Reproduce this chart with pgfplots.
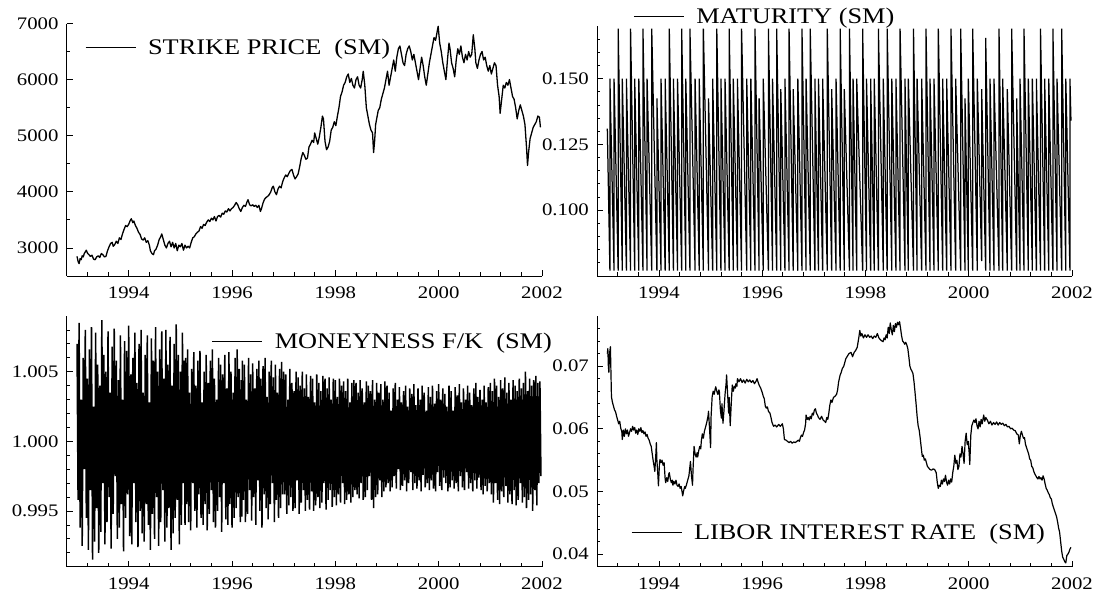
\documentclass[border=0pt]{standalone}
\usepackage{fontspec}
\setmainfont{Liberation Serif}[FakeStretch=1.18]
\usepackage{pgfplots}
\pgfplotsset{compat=1.18}

\newcommand\tickfont{\fontsize{17.6}{20}\selectfont}
\newcommand\legfont{\fontsize{22.3}{26}\selectfont}

\pgfplotsset{
  panel/.style={
    scale only axis,
    axis lines=left,
    axis line style={-, line width=0.8pt, black},
    tick align=inside,
    major tick length=6pt,
    minor tick length=3.5pt,
    tick style={line width=0.8pt, black},
    scaled ticks=false,
    xmin=1992.8, xmax=2002,
    xtick={1994,1996,1998,2000,2002},
    xticklabels={1994,1996,1998,2000,2002},
    minor xtick={1993.2,1993.6,1994.4,1994.8,1995.2,1995.6,1996.4,1996.8,1997.2,1997.6,1998.4,1998.8,1999.2,1999.6,2000.4,2000.8,2001.2,2001.6},
    tick label style={font=\tickfont, inner sep=0pt},
    xticklabel style={yshift=-11pt},
    yticklabel style={xshift=-8pt},
    legend style={draw=none, fill=none, inner sep=0pt, outer sep=0pt,
      font=\legfont, anchor=west, legend cell align=left,
      /tikz/every odd column/.append style={column sep=10pt}},
    legend image code/.code={\draw[#1, line width=0.8pt] (0pt,0pt) -- (50pt,0pt);},
  }
}

\begin{document}
\begin{tikzpicture}
\path[use as bounding box] (0pt,0pt) rectangle (1096pt,595pt);

% ---------------- strike price ----------------
\begin{axis}[panel, at={(66.7pt,319pt)}, anchor=south west,
  width=475.3pt, height=252.5pt,
  ymin=2500, ymax=7000,
  ytick={3000,4000,5000,6000,7000}, yticklabels={3000,4000,5000,6000,7000},
  minor ytick={3500,4500,5500,6500},
  legend style={at={(0.0391,0.9046)}}]
\addplot[black, line width=1.3pt, line join=round] coordinates {
(1993.00,2850) (1993.02,2760) (1993.04,2720) (1993.06,2810) (1993.08,2790) (1993.10,2860)
(1993.12,2840) (1993.14,2900) (1993.16,2930) (1993.18,2960) (1993.20,2910) (1993.23,2880)
(1993.26,2850) (1993.29,2870) (1993.32,2800) (1993.35,2790) (1993.38,2840) (1993.41,2860)
(1993.44,2830) (1993.47,2900) (1993.50,2880) (1993.53,2840) (1993.56,2850) (1993.59,2950)
(1993.62,3020) (1993.65,3080) (1993.68,3100) (1993.70,3030) (1993.73,3060) (1993.76,3120)
(1993.79,3080) (1993.82,3180) (1993.85,3150) (1993.88,3250) (1993.91,3330) (1993.94,3400)
(1993.97,3380) (1994.00,3420) (1994.03,3490) (1994.05,3520) (1994.08,3450) (1994.10,3480)
(1994.13,3400) (1994.16,3350) (1994.19,3280) (1994.22,3240) (1994.25,3160) (1994.28,3140)
(1994.31,3180) (1994.34,3100) (1994.37,3130) (1994.40,3050) (1994.42,2950) (1994.45,2900)
(1994.48,2880) (1994.50,2950) (1994.53,2980) (1994.56,3050) (1994.59,3150) (1994.62,3200)
(1994.64,3250) (1994.67,3150) (1994.70,3050) (1994.73,3000) (1994.76,3080) (1994.79,3120)
(1994.82,3020) (1994.85,3100) (1994.88,3000) (1994.91,3080) (1994.94,2950) (1994.97,3050)
(1995.00,3020) (1995.03,3080) (1995.06,2960) (1995.09,3050) (1995.12,3000) (1995.15,3030)
(1995.18,3000) (1995.21,3100) (1995.24,3180) (1995.27,3200) (1995.30,3250) (1995.33,3280)
(1995.36,3300) (1995.39,3380) (1995.42,3350) (1995.45,3420) (1995.48,3400) (1995.51,3460)
(1995.54,3500) (1995.57,3470) (1995.60,3530) (1995.63,3500) (1995.66,3560) (1995.69,3480)
(1995.72,3560) (1995.75,3580) (1995.78,3550) (1995.81,3620) (1995.84,3600) (1995.87,3660)
(1995.90,3640) (1995.93,3700) (1995.96,3660) (1995.99,3700) (1996.02,3720) (1996.05,3760)
(1996.08,3810) (1996.11,3770) (1996.14,3700) (1996.17,3650) (1996.20,3720) (1996.23,3760)
(1996.26,3740) (1996.29,3820) (1996.31,3860) (1996.34,3770) (1996.37,3750) (1996.40,3770)
(1996.43,3740) (1996.46,3760) (1996.49,3720) (1996.52,3760) (1996.55,3650) (1996.57,3700)
(1996.60,3800) (1996.63,3870) (1996.66,3900) (1996.69,3920) (1996.72,3950) (1996.75,4000)
(1996.78,4080) (1996.80,4100) (1996.83,4000) (1996.86,3950) (1996.89,4050) (1996.92,4100)
(1996.95,4070) (1996.98,4180) (1997.01,4250) (1997.04,4300) (1997.07,4270) (1997.10,4330)
(1997.13,4380) (1997.16,4400) (1997.19,4300) (1997.22,4230) (1997.25,4270) (1997.28,4320)
(1997.31,4450) (1997.34,4600) (1997.37,4700) (1997.40,4650) (1997.43,4580) (1997.46,4600)
(1997.49,4800) (1997.52,4850) (1997.55,4920) (1997.58,4880) (1997.60,5050) (1997.63,4950)
(1997.66,4850) (1997.69,4980) (1997.72,5150) (1997.75,5350) (1997.77,5300) (1997.80,4900)
(1997.83,4750) (1997.86,4800) (1997.89,4900) (1997.92,5100) (1997.95,5150) (1997.98,5250)
(1998.01,5180) (1998.04,5350) (1998.07,5500) (1998.10,5700) (1998.13,5780) (1998.16,5900)
(1998.19,5950) (1998.22,6050) (1998.25,6100) (1998.28,5950) (1998.31,6020) (1998.34,5900)
(1998.37,5850) (1998.40,6000) (1998.43,6050) (1998.46,5900) (1998.49,5850) (1998.52,6000)
(1998.54,6150) (1998.57,5900) (1998.60,5500) (1998.63,5350) (1998.66,5200) (1998.69,5100)
(1998.72,5050) (1998.74,4700) (1998.76,4900) (1998.78,5200) (1998.80,5300) (1998.83,5450)
(1998.86,5500) (1998.89,5650) (1998.92,5750) (1998.95,5850) (1998.98,6000) (1999.01,6150)
(1999.04,5900) (1999.07,6050) (1999.10,6200) (1999.13,6350) (1999.16,6150) (1999.19,6400)
(1999.22,6550) (1999.25,6600) (1999.28,6450) (1999.31,6300) (1999.34,6250) (1999.37,6450)
(1999.40,6550) (1999.43,6600) (1999.46,6500) (1999.49,6350) (1999.52,6450) (1999.55,6300)
(1999.58,6150) (1999.61,6000) (1999.64,6200) (1999.67,6400) (1999.70,6250) (1999.73,6050)
(1999.76,5900) (1999.79,6100) (1999.82,6300) (1999.85,6450) (1999.88,6600) (1999.91,6750)
(1999.94,6700) (1999.97,6850) (1999.99,6950) (2000.02,6650) (2000.05,6500) (2000.08,6300)
(2000.11,6150) (2000.14,6000) (2000.17,6350) (2000.20,6650) (2000.22,6550) (2000.25,6300)
(2000.28,6200) (2000.31,6050) (2000.34,6350) (2000.37,6550) (2000.40,6450) (2000.43,6600)
(2000.46,6400) (2000.49,6300) (2000.52,6450) (2000.55,6350) (2000.58,6500) (2000.61,6400)
(2000.64,6450) (2000.67,6800) (2000.70,6550) (2000.72,6300) (2000.75,6200) (2000.78,6350)
(2000.81,6450) (2000.84,6500) (2000.87,6350) (2000.90,6400) (2000.93,6250) (2000.96,6150)
(2000.99,6250) (2001.02,6100) (2001.05,6200) (2001.08,6300) (2001.11,6250) (2001.14,5900)
(2001.17,5700) (2001.19,5400) (2001.22,5650) (2001.25,5900) (2001.28,5850) (2001.31,5950)
(2001.34,5900) (2001.37,6000) (2001.40,5850) (2001.43,5700) (2001.46,5650) (2001.49,5500)
(2001.52,5300) (2001.55,5450) (2001.58,5550) (2001.61,5450) (2001.64,5350) (2001.67,5200)
(2001.70,4800) (2001.72,4470) (2001.74,4700) (2001.77,4950) (2001.80,5050) (2001.83,5150)
(2001.86,5200) (2001.89,5250) (2001.92,5350) (2001.95,5330) (2001.97,5150)
};
\addlegendentry{STRIKE PRICE\ \ (SM)}
\end{axis}

% ---------------- maturity ----------------
\begin{axis}[panel, at={(597pt,319pt)}, anchor=south west,
  width=475pt, height=250pt,
  ymin=0.075, ymax=0.170,
  ytick={0.100,0.125,0.150}, yticklabels={0.100,0.125,0.150},
  minor ytick={0.080,0.085,0.090,0.095,0.105,0.110,0.115,0.120,0.130,0.135,0.140,0.145,0.155,0.160,0.165},
  legend style={at={(0.0768,1.0388)}}]
\addplot[black, line width=1.25pt] coordinates {
(1993.00,0.131)
(1993.05,0.077) (1993.05,0.150) (1993.13,0.077) (1993.13,0.150) (1993.21,0.077) (1993.21,0.169)
(1993.29,0.077) (1993.29,0.150) (1993.37,0.077) (1993.37,0.150) (1993.45,0.077) (1993.45,0.169)
(1993.53,0.077) (1993.53,0.150) (1993.61,0.077) (1993.61,0.150) (1993.69,0.077) (1993.69,0.169)
(1993.77,0.077) (1993.77,0.150) (1993.86,0.077) (1993.86,0.169) (1993.96,0.077) (1993.96,0.1425)
(1994.04,0.077) (1994.04,0.150) (1994.12,0.077) (1994.12,0.150) (1994.20,0.077) (1994.20,0.169)
(1994.28,0.077) (1994.28,0.150) (1994.36,0.077) (1994.36,0.150) (1994.44,0.077) (1994.44,0.169)
(1994.52,0.077) (1994.52,0.150) (1994.60,0.077) (1994.60,0.169) (1994.70,0.077) (1994.70,0.150)
(1994.78,0.077) (1994.78,0.150) (1994.86,0.077) (1994.86,0.169) (1994.96,0.077) (1994.96,0.1425)
(1995.04,0.077) (1995.04,0.150) (1995.12,0.077) (1995.12,0.169) (1995.20,0.077) (1995.20,0.150)
(1995.28,0.077) (1995.28,0.150) (1995.36,0.077) (1995.36,0.169) (1995.44,0.077) (1995.44,0.150)
(1995.52,0.077) (1995.52,0.150) (1995.60,0.077) (1995.60,0.169) (1995.70,0.077) (1995.70,0.150)
(1995.78,0.077) (1995.78,0.150) (1995.86,0.077) (1995.86,0.169) (1995.94,0.077) (1995.94,0.1425)
(1996.02,0.077) (1996.02,0.150) (1996.12,0.077) (1996.12,0.169) (1996.20,0.077) (1996.20,0.150)
(1996.28,0.077) (1996.28,0.169) (1996.36,0.077) (1996.36,0.146) (1996.44,0.077) (1996.44,0.150)
(1996.52,0.077) (1996.52,0.169) (1996.60,0.077) (1996.60,0.146) (1996.69,0.077) (1996.69,0.150)
(1996.77,0.077) (1996.77,0.169) (1996.85,0.077) (1996.85,0.150) (1996.93,0.077) (1996.93,0.169)
(1997.02,0.077) (1997.02,0.150) (1997.09,0.077) (1997.09,0.150) (1997.17,0.077) (1997.17,0.150)
(1997.26,0.077) (1997.26,0.169) (1997.345,0.077) (1997.345,0.146) (1997.43,0.077) (1997.43,0.150)
(1997.51,0.077) (1997.51,0.169) (1997.59,0.077) (1997.59,0.146) (1997.69,0.077) (1997.69,0.169)
(1997.76,0.077) (1997.76,0.150) (1997.83,0.077) (1997.83,0.150) (1997.945,0.077) (1997.945,0.169)
(1998.02,0.077) (1998.02,0.150) (1998.10,0.077) (1998.10,0.150) (1998.17,0.077) (1998.17,0.150)
(1998.25,0.077) (1998.25,0.169) (1998.345,0.077) (1998.345,0.150) (1998.42,0.077) (1998.42,0.169)
(1998.51,0.077) (1998.51,0.150) (1998.59,0.077) (1998.59,0.150) (1998.67,0.077) (1998.67,0.169)
(1998.765,0.077) (1998.765,0.150) (1998.83,0.077) (1998.83,0.150) (1998.93,0.077) (1998.93,0.169)
(1999.00,0.077) (1999.00,0.150) (1999.088,0.077) (1999.088,0.150) (1999.172,0.077) (1999.172,0.169)
(1999.25,0.077) (1999.25,0.150) (1999.327,0.077) (1999.327,0.150) (1999.411,0.077) (1999.411,0.169)
(1999.495,0.077) (1999.495,0.150) (1999.572,0.077) (1999.572,0.150) (1999.656,0.077) (1999.656,0.169)
(1999.747,0.077) (1999.747,0.150) (1999.844,0.077) (1999.844,0.169) (1999.928,0.077) (1999.928,0.1425)
(1999.992,0.077) (1999.992,0.150) (2000.076,0.077) (2000.076,0.169) (2000.166,0.077) (2000.166,0.150)
(2000.25,0.0807) (2000.25,0.146) (2000.328,0.077) (2000.328,0.1655) (2000.412,0.077) (2000.412,0.150)
(2000.489,0.077) (2000.489,0.150) (2000.586,0.077) (2000.586,0.169) (2000.657,0.077) (2000.657,0.150)
(2000.747,0.077) (2000.747,0.146) (2000.831,0.077) (2000.831,0.169) (2000.928,0.077) (2000.928,0.1425)
(2000.993,0.077) (2000.993,0.150) (2001.07,0.077) (2001.07,0.169) (2001.154,0.077) (2001.154,0.150)
(2001.232,0.077) (2001.232,0.150) (2001.31,0.077) (2001.31,0.150) (2001.39,0.077) (2001.39,0.169)
(2001.47,0.077) (2001.47,0.150) (2001.55,0.077) (2001.55,0.150) (2001.63,0.077) (2001.63,0.169)
(2001.71,0.077) (2001.71,0.150) (2001.80,0.077) (2001.80,0.169) (2001.88,0.077) (2001.88,0.150)
(2001.96,0.077) (2001.96,0.150) (2001.98,0.134)
};
\addlegendentry{MATURITY (SM)}
\end{axis}

% ---------------- moneyness ----------------
\begin{axis}[panel, at={(66.7pt,28.3pt)}, anchor=south west,
  width=475.3pt, height=250.7pt,
  ymin=0.991, ymax=1.009,
  ytick={0.995,1.000,1.005}, yticklabels={0.995,1.000,1.005},
  minor ytick={0.992,0.993,0.994,0.996,0.997,0.998,0.999,1.001,1.002,1.003,1.004,1.006,1.007,1.008},
  legend style={at={(0.3057,0.898)}}]
\addplot[black, line width=1.5pt] coordinates {
(1993.00,1.0070) (1993.02,0.9958) (1993.04,1.0085) (1993.06,0.9938) (1993.08,1.0030) (1993.10,0.9925)
(1993.12,1.0060) (1993.14,0.9980) (1993.16,1.0080) (1993.18,0.9945) (1993.20,1.0045) (1993.22,0.9922)
(1993.24,1.0066) (1993.26,0.9965) (1993.28,1.0082) (1993.30,0.9915) (1993.32,1.0025) (1993.34,0.9928)
(1993.36,1.0078) (1993.38,0.9952) (1993.40,1.0055) (1993.42,0.9920) (1993.44,1.0040) (1993.46,0.9935)
(1993.48,1.0087) (1993.50,0.9970) (1993.52,1.0062) (1993.54,0.9926) (1993.56,1.0050) (1993.58,0.9942)
(1993.60,1.0079) (1993.62,0.9960) (1993.64,1.0035) (1993.66,0.9923) (1993.68,1.0068) (1993.70,0.9948)
(1993.72,1.0081) (1993.74,0.9975) (1993.76,1.0058) (1993.78,0.9930) (1993.80,1.0044) (1993.82,0.9938)
(1993.84,1.0076) (1993.86,0.9955) (1993.88,1.0030) (1993.90,0.9921) (1993.92,1.0072) (1993.94,0.9945)
(1993.96,1.0065) (1993.98,0.9962) (1994.00,1.0083) (1994.02,0.9932) (1994.04,1.0048) (1994.06,0.9926)
(1994.08,1.0060) (1994.10,0.9970) (1994.12,1.0078) (1994.14,0.9942) (1994.16,1.0042) (1994.18,0.9924)
(1994.20,1.0070) (1994.22,0.9950) (1994.24,1.0080) (1994.26,0.9934) (1994.28,1.0035) (1994.30,0.9928)
(1994.32,1.0062) (1994.34,0.9955) (1994.36,1.0076) (1994.38,0.9940) (1994.40,1.0028) (1994.42,0.9922)
(1994.44,1.0074) (1994.46,0.9948) (1994.48,1.0058) (1994.50,0.9930) (1994.52,1.0082) (1994.54,0.9960)
(1994.56,1.0050) (1994.58,0.9925) (1994.60,1.0066) (1994.62,0.9942) (1994.64,1.0079) (1994.66,0.9965)
(1994.68,1.0045) (1994.70,0.9928) (1994.72,1.0080) (1994.74,0.9938) (1994.76,1.0055) (1994.78,0.9952)
(1994.80,1.0075) (1994.82,0.9922) (1994.84,1.0040) (1994.86,0.9934) (1994.88,1.0070) (1994.90,0.9945)
(1994.92,1.0084) (1994.94,0.9958) (1994.96,1.0062) (1994.98,0.9926) (1995.00,1.0050) (1995.02,0.9940)
(1995.04,1.0078) (1995.06,0.9970) (1995.08,1.0058) (1995.09,0.9940)
(1995.10,1.0060) (1995.12,0.9955) (1995.14,1.0066) (1995.16,0.9942) (1995.18,1.0035) (1995.20,0.9936)
(1995.22,1.0052) (1995.24,0.9970) (1995.26,1.0064) (1995.28,0.9950) (1995.30,1.0040) (1995.32,0.9938)
(1995.34,1.0058) (1995.36,0.9962) (1995.38,1.0065) (1995.40,0.9945) (1995.42,1.0028) (1995.44,0.9940)
(1995.46,1.0050) (1995.48,0.9955) (1995.50,1.0062) (1995.52,0.9936) (1995.54,1.0042) (1995.56,0.9948)
(1995.58,1.0058) (1995.60,0.9965) (1995.62,1.0066) (1995.64,0.9942) (1995.66,1.0045) (1995.68,0.9938)
(1995.70,1.0030) (1995.72,0.9950) (1995.74,1.0060) (1995.76,0.9960) (1995.78,1.0055) (1995.80,0.9935)
(1995.82,1.0048) (1995.84,0.9970) (1995.86,1.0062) (1995.88,0.9944) (1995.90,1.0038) (1995.92,0.9940)
(1995.94,1.0064) (1995.96,0.9955) (1995.98,1.0050) (1996.00,0.9938) (1996.02,1.0035) (1996.04,0.9945)
(1996.06,1.0060) (1996.08,0.9952) (1996.10,1.0066) (1996.12,0.9960) (1996.14,1.0052) (1996.16,0.9942)
(1996.18,1.0044) (1996.19,0.9946)
(1996.20,1.0058) (1996.22,0.9958) (1996.24,1.0055) (1996.26,0.9942) (1996.28,1.0030) (1996.30,0.9948)
(1996.32,1.0060) (1996.34,0.9965) (1996.36,1.0048) (1996.38,0.9943) (1996.40,1.0056) (1996.42,0.9960)
(1996.44,1.0038) (1996.46,0.9940) (1996.48,1.0052) (1996.50,0.9972) (1996.52,1.0058) (1996.54,0.9950)
(1996.56,1.0045) (1996.58,0.9938) (1996.60,1.0054) (1996.62,0.9962) (1996.64,1.0060) (1996.66,0.9952)
(1996.68,1.0032) (1996.70,0.9944) (1996.72,1.0050) (1996.74,0.9955) (1996.76,1.0058) (1996.78,0.9970)
(1996.80,1.0046) (1996.82,0.9942) (1996.84,1.0055) (1996.86,0.9958) (1996.88,1.0035) (1996.90,0.9945)
(1996.92,1.0052) (1996.94,0.9952) (1996.96,1.0057) (1996.98,0.9962)
(1997.00,1.0050) (1997.02,0.9962) (1997.04,1.0048) (1997.06,0.9948) (1997.08,1.0030) (1997.10,0.9954)
(1997.12,1.0052) (1997.14,0.9960) (1997.16,1.0042) (1997.18,0.9950) (1997.20,1.0036) (1997.22,0.9952)
(1997.24,1.0050) (1997.26,0.9972) (1997.28,1.0046) (1997.30,0.9948) (1997.32,1.0040) (1997.34,0.9956)
(1997.36,1.0050) (1997.38,0.9965) (1997.40,1.0038) (1997.42,0.9950) (1997.44,1.0048) (1997.46,0.9958)
(1997.48,1.0032) (1997.50,0.9951) (1997.52,1.0047) (1997.54,0.9964) (1997.56,1.0045) (1997.58,0.9950)
(1997.60,1.0028) (1997.62,0.9954) (1997.64,1.0048) (1997.66,0.9960) (1997.68,1.0042) (1997.70,0.9952)
(1997.72,1.0036) (1997.74,0.9956) (1997.76,1.0047) (1997.78,0.9970) (1997.80,1.0045) (1997.82,0.9951)
(1997.84,1.0038) (1997.86,0.9958) (1997.88,1.0046) (1997.90,0.9965) (1997.92,1.0030) (1997.94,0.9953)
(1997.96,1.0045) (1997.98,0.9960) (1998.00,1.0044) (1998.02,0.9954) (1998.04,1.0032) (1998.06,0.9962)
(1998.08,1.0045) (1998.10,0.9956) (1998.12,1.0040) (1998.14,0.9970) (1998.16,1.0043) (1998.18,0.9955)
(1998.20,1.0036) (1998.22,0.9958) (1998.24,1.0045) (1998.26,0.9962) (1998.28,1.0028) (1998.30,0.9956)
(1998.32,1.0042) (1998.34,0.9960) (1998.36,1.0044) (1998.38,0.9965)
(1998.40,1.0042) (1998.42,0.9962) (1998.44,1.0035) (1998.46,0.9959) (1998.48,1.0044) (1998.50,0.9970)
(1998.52,1.0038) (1998.54,0.9958) (1998.56,1.0028) (1998.58,0.9960) (1998.60,1.0043) (1998.62,0.9965)
(1998.64,1.0040) (1998.66,0.9975) (1998.68,1.0036) (1998.70,0.9958) (1998.72,1.0044) (1998.74,0.9952)
(1998.76,1.0030) (1998.78,0.9960) (1998.80,1.0042) (1998.82,0.9962) (1998.84,1.0035) (1998.86,0.9972)
(1998.88,1.0041) (1998.90,0.9960) (1998.92,1.0030) (1998.94,0.9964) (1998.96,1.0043) (1998.98,0.9967)
(1999.00,1.0040) (1999.02,0.9970) (1999.04,1.0035) (1999.06,0.9964) (1999.08,1.0022) (1999.10,0.9967)
(1999.12,1.0038) (1999.14,0.9975) (1999.16,1.0042) (1999.18,0.9966) (1999.20,1.0030) (1999.22,0.9980)
(1999.24,1.0039) (1999.26,0.9965) (1999.28,1.0028) (1999.30,0.9968) (1999.32,1.0036) (1999.34,0.9972)
(1999.36,1.0040) (1999.38,0.9964) (1999.40,1.0025) (1999.42,0.9970) (1999.44,1.0038) (1999.46,0.9978)
(1999.48,1.0034) (1999.50,0.9965) (1999.52,1.0041) (1999.54,0.9970) (1999.56,1.0026) (1999.58,0.9966)
(1999.60,1.0038) (1999.62,0.9972) (1999.64,1.0030) (1999.66,0.9964) (1999.68,1.0040) (1999.70,0.9976)
(1999.72,1.0035) (1999.74,0.9967) (1999.76,1.0022) (1999.78,0.9970) (1999.80,1.0039) (1999.82,0.9965)
(1999.84,1.0032) (1999.86,0.9972) (1999.88,1.0040) (1999.90,0.9966) (1999.92,1.0027) (1999.94,0.9964)
(1999.96,1.0036) (1999.98,0.9978) (2000.00,1.0041) (2000.02,0.9968) (2000.04,1.0030) (2000.06,0.9965)
(2000.08,1.0038) (2000.10,0.9974) (2000.12,1.0034) (2000.14,0.9970) (2000.16,1.0025) (2000.18,0.9964)
(2000.20,1.0040) (2000.22,0.9967) (2000.24,1.0036) (2000.26,0.9972) (2000.28,1.0022) (2000.30,0.9966)
(2000.32,1.0039) (2000.34,0.9970) (2000.36,1.0033) (2000.38,0.9964) (2000.40,1.0041) (2000.42,0.9975)
(2000.44,1.0028) (2000.46,0.9967) (2000.48,1.0038) (2000.50,0.9965) (2000.52,1.0030) (2000.54,0.9978)
(2000.56,1.0040) (2000.58,0.9966) (2000.60,1.0035) (2000.62,0.9970) (2000.64,1.0026) (2000.66,0.9964)
(2000.68,1.0038) (2000.70,0.9972) (2000.72,1.0042) (2000.74,0.9966) (2000.76,1.0032) (2000.78,0.9974)
(2000.80,1.0037) (2000.82,0.9965) (2000.84,1.0030) (2000.86,0.9962) (2000.88,1.0040) (2000.90,0.9968)
(2000.92,1.0028) (2000.94,0.9964) (2000.96,1.0039) (2000.98,0.9970)
(2001.00,1.0042) (2001.02,0.9962) (2001.04,1.0036) (2001.06,0.9956) (2001.08,1.0045) (2001.10,0.9970)
(2001.12,1.0040) (2001.14,0.9958) (2001.16,1.0032) (2001.18,0.9955) (2001.20,1.0044) (2001.22,0.9964)
(2001.24,1.0038) (2001.26,0.9960) (2001.28,1.0046) (2001.30,0.9968) (2001.32,1.0035) (2001.34,0.9956)
(2001.36,1.0042) (2001.38,0.9962) (2001.40,1.0030) (2001.42,0.9955) (2001.44,1.0044) (2001.46,0.9965)
(2001.48,1.0040) (2001.50,0.9954) (2001.52,1.0036) (2001.54,0.9958) (2001.56,1.0045) (2001.58,0.9970)
(2001.60,1.0038) (2001.62,0.9956) (2001.64,1.0042) (2001.66,0.9960) (2001.68,1.0050) (2001.70,0.9952)
(2001.72,1.0036) (2001.74,0.9958) (2001.76,1.0045) (2001.78,0.9962) (2001.80,1.0040) (2001.82,0.9950)
(2001.84,1.0044) (2001.86,0.9965) (2001.88,1.0047) (2001.90,0.9954) (2001.92,1.0042) (2001.94,0.9970)
(2001.96,1.0043) (2001.98,0.9975)
};
\addlegendentry{MONEYNESS F/K\ \ (SM)}
\end{axis}

% ---------------- libor ----------------
\begin{axis}[panel, at={(597pt,28.3pt)}, anchor=south west,
  width=475pt, height=250.7pt,
  ymin=0.038, ymax=0.078,
  ytick={0.04,0.05,0.06,0.07}, yticklabels={0.04,0.05,0.06,0.07},
  minor ytick={0.042,0.044,0.046,0.048,0.052,0.054,0.056,0.058,0.062,0.064,0.066,0.068,0.072,0.074,0.076},
  legend style={at={(0.0722,0.1356)}}]
\addplot[black, line width=1.2pt, line join=round] coordinates {
(1993.00,0.0720) (1993.01,0.0728) (1993.02,0.0700) (1993.03,0.0690) (1993.04,0.0715) (1993.05,0.0725)
(1993.06,0.0731) (1993.07,0.0690) (1993.08,0.0651) (1993.10,0.0642) (1993.12,0.0636) (1993.14,0.0630)
(1993.16,0.0627) (1993.18,0.0620) (1993.20,0.0614) (1993.22,0.0608) (1993.24,0.0612) (1993.26,0.0601)
(1993.28,0.0596) (1993.29,0.0583) (1993.31,0.0598) (1993.33,0.0588) (1993.35,0.0600) (1993.37,0.0592)
(1993.39,0.0598) (1993.41,0.0588) (1993.43,0.0594) (1993.45,0.0600) (1993.47,0.0596) (1993.49,0.0604)
(1993.51,0.0598) (1993.53,0.0602) (1993.55,0.0593) (1993.57,0.0598) (1993.59,0.0591) (1993.61,0.0600)
(1993.63,0.0596) (1993.65,0.0602) (1993.67,0.0594) (1993.69,0.0597) (1993.71,0.0592) (1993.73,0.0595)
(1993.75,0.0588) (1993.77,0.0591) (1993.79,0.0585) (1993.81,0.0582) (1993.83,0.0576) (1993.85,0.0572)
(1993.87,0.0560) (1993.89,0.0548) (1993.91,0.0538) (1993.92,0.0532) (1993.94,0.0560) (1993.95,0.0578)
(1993.96,0.0550) (1993.98,0.0525) (1993.99,0.0509) (1994.01,0.0545) (1994.02,0.0551) (1994.04,0.0546)
(1994.06,0.0550) (1994.08,0.0542) (1994.10,0.0546) (1994.12,0.0520) (1994.13,0.0514) (1994.15,0.0522)
(1994.17,0.0516) (1994.19,0.0528) (1994.20,0.0530) (1994.22,0.0520) (1994.24,0.0514) (1994.26,0.0518)
(1994.27,0.0510) (1994.29,0.0516) (1994.31,0.0512) (1994.33,0.0518) (1994.35,0.0510) (1994.37,0.0508)
(1994.39,0.0512) (1994.41,0.0505) (1994.43,0.0508) (1994.45,0.0498) (1994.46,0.0493) (1994.48,0.0502)
(1994.50,0.0508) (1994.51,0.0505) (1994.53,0.0510) (1994.55,0.0516) (1994.57,0.0522) (1994.58,0.0525)
(1994.60,0.0540) (1994.61,0.0548) (1994.63,0.0525) (1994.65,0.0510) (1994.66,0.0535) (1994.68,0.0572)
(1994.70,0.0560) (1994.72,0.0555) (1994.74,0.0562) (1994.75,0.0555) (1994.77,0.0565) (1994.79,0.0572)
(1994.81,0.0568) (1994.82,0.0580) (1994.84,0.0592) (1994.86,0.0585) (1994.88,0.0596) (1994.89,0.0599)
(1994.91,0.0605) (1994.93,0.0612) (1994.95,0.0620) (1994.96,0.0628) (1994.98,0.0600) (1995.00,0.0570)
(1995.01,0.0620) (1995.03,0.0651) (1995.05,0.0660) (1995.07,0.0655) (1995.09,0.0664) (1995.10,0.0667)
(1995.12,0.0660) (1995.14,0.0655) (1995.16,0.0662) (1995.17,0.0660) (1995.19,0.0630) (1995.21,0.0617)
(1995.22,0.0640) (1995.24,0.0609) (1995.26,0.0630) (1995.28,0.0655) (1995.30,0.0672) (1995.31,0.0686)
(1995.33,0.0655) (1995.35,0.0625) (1995.36,0.0650) (1995.38,0.0605) (1995.40,0.0640) (1995.42,0.0670)
(1995.44,0.0660) (1995.46,0.0668) (1995.48,0.0665) (1995.49,0.0672) (1995.51,0.0668) (1995.52,0.0680)
(1995.55,0.0675) (1995.58,0.0680) (1995.61,0.0674) (1995.64,0.0678) (1995.67,0.0673) (1995.70,0.0679)
(1995.73,0.0675) (1995.76,0.0678) (1995.79,0.0674) (1995.82,0.0677) (1995.85,0.0672) (1995.88,0.0676)
(1995.90,0.0680) (1995.93,0.0672) (1995.95,0.0668) (1995.97,0.0665) (1996.00,0.0658) (1996.02,0.0652)
(1996.04,0.0648) (1996.06,0.0636) (1996.08,0.0633) (1996.10,0.0635) (1996.12,0.0628) (1996.15,0.0625)
(1996.17,0.0618) (1996.19,0.0610) (1996.22,0.0604) (1996.25,0.0606) (1996.28,0.0603) (1996.30,0.0605)
(1996.32,0.0607) (1996.35,0.0604) (1996.37,0.0606) (1996.39,0.0608) (1996.41,0.0600) (1996.43,0.0583)
(1996.46,0.0582) (1996.49,0.0580) (1996.52,0.0578) (1996.55,0.0580) (1996.58,0.0577) (1996.61,0.0579)
(1996.64,0.0578) (1996.67,0.0580) (1996.70,0.0582) (1996.72,0.0580) (1996.74,0.0586) (1996.76,0.0590)
(1996.78,0.0588) (1996.80,0.0594) (1996.82,0.0598) (1996.84,0.0608) (1996.85,0.0622) (1996.87,0.0615)
(1996.89,0.0618) (1996.91,0.0614) (1996.93,0.0620) (1996.95,0.0616) (1996.97,0.0625) (1996.99,0.0622)
(1997.01,0.0630) (1997.03,0.0632) (1997.05,0.0625) (1997.07,0.0622) (1997.09,0.0618) (1997.12,0.0615)
(1997.15,0.0620) (1997.18,0.0614) (1997.21,0.0612) (1997.23,0.0610) (1997.25,0.0618) (1997.27,0.0615)
(1997.29,0.0625) (1997.31,0.0638) (1997.33,0.0646) (1997.35,0.0642) (1997.38,0.0650) (1997.41,0.0652)
(1997.44,0.0655) (1997.46,0.0662) (1997.48,0.0675) (1997.51,0.0686) (1997.53,0.0690) (1997.55,0.0696)
(1997.58,0.0700) (1997.60,0.0706) (1997.62,0.0712) (1997.65,0.0716) (1997.68,0.0720) (1997.72,0.0722)
(1997.75,0.0715) (1997.78,0.0722) (1997.81,0.0725) (1997.84,0.0730) (1997.87,0.0745) (1997.89,0.0757)
(1997.91,0.0748) (1997.93,0.0752) (1997.96,0.0745) (1997.99,0.0750) (1998.02,0.0746) (1998.05,0.0750)
(1998.08,0.0746) (1998.11,0.0748) (1998.14,0.0744) (1998.17,0.0748) (1998.20,0.0746) (1998.23,0.0752)
(1998.26,0.0745) (1998.29,0.0742) (1998.32,0.0740) (1998.34,0.0739) (1998.36,0.0745) (1998.38,0.0742)
(1998.40,0.0750) (1998.42,0.0745) (1998.44,0.0762) (1998.46,0.0752) (1998.48,0.0769) (1998.50,0.0758)
(1998.52,0.0750) (1998.54,0.0765) (1998.56,0.0755) (1998.58,0.0768) (1998.60,0.0762) (1998.62,0.0770)
(1998.64,0.0766) (1998.66,0.0771) (1998.68,0.0760) (1998.70,0.0748) (1998.72,0.0740) (1998.74,0.0738)
(1998.76,0.0735) (1998.78,0.0738) (1998.80,0.0734) (1998.82,0.0728) (1998.84,0.0715) (1998.86,0.0700)
(1998.88,0.0695) (1998.90,0.0692) (1998.92,0.0688) (1998.94,0.0675) (1998.96,0.0658) (1998.98,0.0640)
(1999.00,0.0620) (1999.02,0.0605) (1999.04,0.0598) (1999.06,0.0585) (1999.08,0.0570) (1999.10,0.0556)
(1999.12,0.0558) (1999.14,0.0550) (1999.16,0.0552) (1999.18,0.0546) (1999.20,0.0540) (1999.22,0.0538)
(1999.25,0.0535) (1999.28,0.0534) (1999.31,0.0536) (1999.34,0.0535) (1999.37,0.0530) (1999.39,0.0515)
(1999.41,0.0505) (1999.43,0.0510) (1999.45,0.0508) (1999.47,0.0518) (1999.49,0.0512) (1999.51,0.0520)
(1999.53,0.0516) (1999.55,0.0526) (1999.57,0.0515) (1999.59,0.0510) (1999.61,0.0518) (1999.63,0.0512)
(1999.65,0.0520) (1999.67,0.0515) (1999.69,0.0530) (1999.71,0.0540) (1999.73,0.0558) (1999.75,0.0545)
(1999.77,0.0550) (1999.79,0.0535) (1999.81,0.0540) (1999.83,0.0560) (1999.85,0.0555) (1999.87,0.0572)
(1999.89,0.0560) (1999.91,0.0545) (1999.93,0.0580) (1999.95,0.0593) (1999.97,0.0575) (1999.99,0.0580)
(2000.01,0.0560) (2000.02,0.0543) (2000.04,0.0590) (2000.06,0.0605) (2000.08,0.0610) (2000.10,0.0614)
(2000.12,0.0610) (2000.14,0.0616) (2000.16,0.0605) (2000.18,0.0600) (2000.20,0.0612) (2000.22,0.0603)
(2000.24,0.0615) (2000.26,0.0608) (2000.29,0.0622) (2000.31,0.0612) (2000.33,0.0618) (2000.36,0.0614)
(2000.39,0.0608) (2000.42,0.0612) (2000.45,0.0606) (2000.48,0.0610) (2000.51,0.0607) (2000.54,0.0611)
(2000.57,0.0606) (2000.60,0.0610) (2000.63,0.0607) (2000.66,0.0609) (2000.69,0.0605) (2000.72,0.0607)
(2000.75,0.0603) (2000.78,0.0604) (2000.81,0.0600) (2000.84,0.0601) (2000.87,0.0598) (2000.90,0.0597)
(2000.93,0.0592) (2000.96,0.0590) (2000.98,0.0576) (2001.00,0.0590) (2001.02,0.0596) (2001.04,0.0590)
(2001.06,0.0585) (2001.08,0.0586) (2001.10,0.0575) (2001.12,0.0570) (2001.14,0.0565) (2001.16,0.0560)
(2001.18,0.0552) (2001.20,0.0550) (2001.22,0.0540) (2001.24,0.0538) (2001.26,0.0532) (2001.28,0.0528)
(2001.30,0.0525) (2001.32,0.0522) (2001.34,0.0520) (2001.36,0.0524) (2001.38,0.0520) (2001.40,0.0522)
(2001.42,0.0518) (2001.44,0.0525) (2001.46,0.0520) (2001.48,0.0512) (2001.50,0.0505) (2001.52,0.0502)
(2001.54,0.0498) (2001.56,0.0495) (2001.58,0.0490) (2001.60,0.0488) (2001.62,0.0480) (2001.64,0.0475)
(2001.66,0.0470) (2001.68,0.0465) (2001.70,0.0460) (2001.72,0.0452) (2001.74,0.0442) (2001.76,0.0435)
(2001.78,0.0420) (2001.80,0.0405) (2001.82,0.0395) (2001.84,0.0392) (2001.86,0.0388) (2001.88,0.0386)
(2001.90,0.0398) (2001.92,0.0400) (2001.94,0.0403) (2001.96,0.0408) (2001.98,0.0411)
};
\addlegendentry{LIBOR INTEREST RATE\ \ (SM)}
\end{axis}
\end{tikzpicture}
\end{document}
